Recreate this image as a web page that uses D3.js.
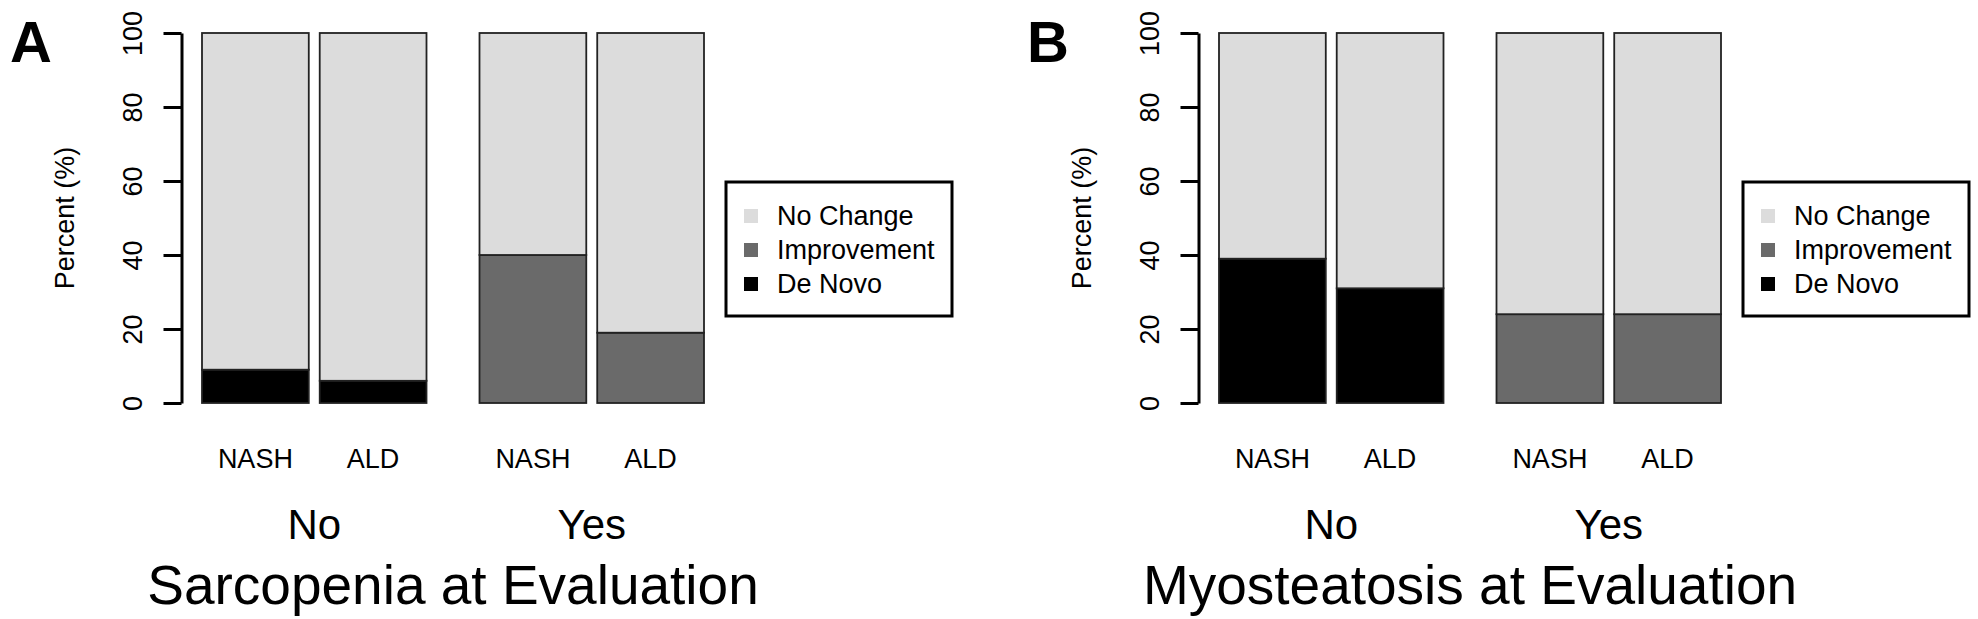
<!DOCTYPE html>
<html>
<head>
<meta charset="utf-8">
<script src="https://cdn.jsdelivr.net/npm/d3@7"></script>
<style>
  html, body { margin: 0; padding: 0; background: #fff; }
  svg { display: block; }
  text { font-family: "Liberation Sans", Arial, Helvetica, sans-serif; fill: #000; }
</style>
</head>
<body>
<svg id="chart" width="1978" height="619"></svg>
<script>
// ---- data ----
const groups = ["No", "Yes"];
const subgroups = ["NASH", "ALD"];
const seriesKeys = ["De Novo", "Improvement", "No Change"];   // stacking order (bottom -> top)
const legendKeys = ["No Change", "Improvement", "De Novo"];   // legend order
const yTicks = [0, 20, 40, 60, 80, 100];

// Panel A: Sarcopenia at Evaluation  (order: No-NASH, No-ALD, Yes-NASH, Yes-ALD)
const sarcopeniaDeNovo      = [9, 6, 0, 0];
const sarcopeniaImprovement = [0, 0, 40, 19];
const sarcopeniaNoChange    = [91, 94, 60, 81];

// Panel B: Myosteatosis at Evaluation
const myosteatosisDeNovo      = [39, 31, 0, 0];
const myosteatosisImprovement = [0, 0, 24, 24];
const myosteatosisNoChange    = [61, 69, 76, 76];

const panels = [
  { letter: "A", title: "Sarcopenia at Evaluation",
    deNovo: sarcopeniaDeNovo, improvement: sarcopeniaImprovement, noChange: sarcopeniaNoChange },
  { letter: "B", title: "Myosteatosis at Evaluation",
    deNovo: myosteatosisDeNovo, improvement: myosteatosisImprovement, noChange: myosteatosisNoChange }
];

// ---- styles ----
const fillColors = { "No Change": "#dcdcdc", "Improvement": "#6a6a6a", "De Novo": "#000000" };
const FONT = 27;

const svg = d3.select("#chart");

function drawPanel(p, offsetX) {
  const g = svg.append("g").attr("transform", `translate(${offsetX},0)`);

  // table built from arrays
  const rows = [];
  groups.forEach((grp, gi) => subgroups.forEach((sg, si) => {
    const i = gi * subgroups.length + si;
    rows.push({ group: grp, sub: sg,
      "De Novo": p.deNovo[i], "Improvement": p.improvement[i], "No Change": p.noChange[i] });
  }));

  const y = d3.scaleLinear().domain([0, 100]).range([403, 33]);
  const x0 = d3.scaleBand().domain(groups).range([202, 704]).paddingInner(0.191);
  const x1 = d3.scaleBand().domain(subgroups).range([0, x0.bandwidth()]).paddingInner(0.093);

  const stacked = d3.stack().keys(seriesKeys)(rows);

  // bars
  stacked.forEach(layer => {
    g.append("g").selectAll("rect")
      .data(layer.filter(d => d[1] - d[0] > 0))
      .join("rect")
      .attr("x", d => x0(d.data.group) + x1(d.data.sub))
      .attr("width", x1.bandwidth())
      .attr("y", d => y(d[1]))
      .attr("height", d => y(d[0]) - y(d[1]))
      .attr("fill", fillColors[layer.key])
      .attr("stroke", "#222")
      .attr("stroke-width", 1.8);
  });

  // y axis
  const axis = d3.axisLeft(y).tickValues(yTicks).tickSize(18).tickSizeOuter(0).tickFormat(d3.format("d"));
  const ag = g.append("g").attr("transform", "translate(181.5,0)").call(axis);
  ag.select(".domain").attr("stroke", "#000").attr("stroke-width", 3);
  ag.selectAll(".tick line").attr("stroke", "#000").attr("stroke-width", 3);
  ag.selectAll(".tick text")
    .attr("transform", "rotate(-90)")
    .attr("x", 0).attr("y", -40).attr("dy", 0)
    .attr("text-anchor", "middle")
    .style("font-size", FONT + "px")
    .style("font-family", '"Liberation Sans", Arial, sans-serif')
    .attr("fill", "#000");

  // y label
  g.append("text")
    .attr("transform", `translate(74,${(y(0) + y(100)) / 2}) rotate(-90)`)
    .attr("text-anchor", "middle")
    .style("font-size", FONT + "px")
    .text("Percent (%)");

  // category labels
  rows.forEach(r => {
    g.append("text")
      .attr("x", x0(r.group) + x1(r.sub) + x1.bandwidth() / 2)
      .attr("y", 468)
      .attr("text-anchor", "middle")
      .style("font-size", FONT + "px")
      .text(r.sub);
  });

  // group labels
  groups.forEach(grp => {
    g.append("text")
      .attr("x", x0(grp) + x0.bandwidth() / 2)
      .attr("y", 539)
      .attr("text-anchor", "middle")
      .style("font-size", "42px")
      .text(grp);
  });

  // title
  g.append("text")
    .attr("x", (x0.range()[0] + x0.range()[1]) / 2)
    .attr("y", 604)
    .attr("text-anchor", "middle")
    .style("font-size", "55px")
    .text(p.title);

  // panel letter
  g.append("text")
    .attr("x", 10)
    .attr("y", 62)
    .style("font-size", "58px")
    .style("font-weight", "bold")
    .text(p.letter);

  // legend
  const lg = g.append("g").attr("transform", "translate(726,182)");
  lg.append("rect").attr("width", 226).attr("height", 134)
    .attr("fill", "#fff").attr("stroke", "#000").attr("stroke-width", 3);
  legendKeys.forEach((k, i) => {
    lg.append("rect")
      .attr("x", 18).attr("y", 27 + i * 34)
      .attr("width", 14).attr("height", 14)
      .attr("fill", fillColors[k]);
    lg.append("text")
      .attr("x", 51).attr("y", 43 + i * 34)
      .style("font-size", FONT + "px")
      .text(k);
  });
}

drawPanel(panels[0], 0);
drawPanel(panels[1], 1017);
</script>
</body>
</html>
